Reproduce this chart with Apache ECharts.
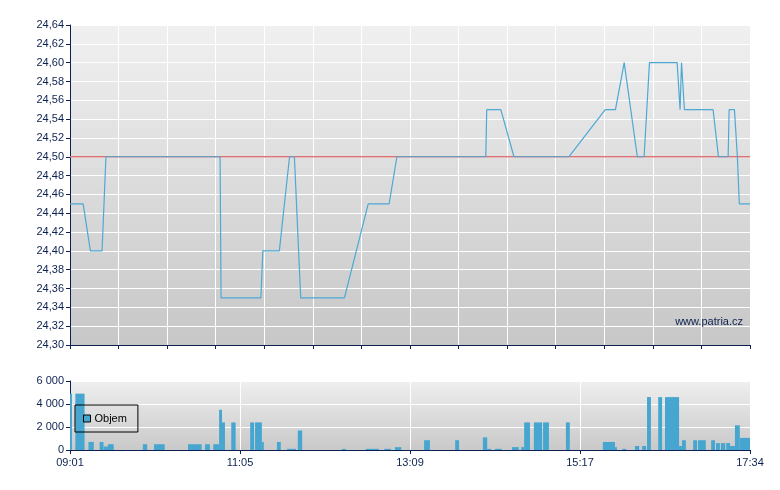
<!DOCTYPE html>
<html>
<head>
<meta charset="utf-8">
<script src="https://cdn.jsdelivr.net/npm/echarts@6/dist/echarts.min.js"></script>
<style>
html,body{margin:0;padding:0;background:#fff;}
#c{width:780px;height:490px;}
</style>
</head>
<body>
<div id="c"></div>
<script>
// Position along the (non-linear) session axis: 0 = 09:01, 140 = 17:34
var timeLabels = ['09:01', '11:05', '13:09', '15:17', '17:34'];
var prevClose = [24.50];

var priceX = [0, 2.7, 4.2, 6.6, 7.4, 30.9, 31.1, 39.3, 39.7, 43.1, 45.2, 46.2, 47.5, 56.5, 61.4, 65.7, 67.3,
  85.6, 85.8, 88.7, 91.4, 102.7, 110.2, 112.3, 114.1, 116.8, 118.2, 119.3, 125.0, 125.6, 125.9, 126.1, 126.5,
  132.4, 133.5, 135.5, 135.7, 136.8, 137.4, 137.8, 140];
var priceY = [24.45, 24.45, 24.40, 24.40, 24.50, 24.50, 24.35, 24.35, 24.40, 24.40, 24.50, 24.50, 24.35, 24.35, 24.45, 24.45, 24.50,
  24.50, 24.55, 24.55, 24.50, 24.50, 24.55, 24.55, 24.60, 24.50, 24.50, 24.60, 24.60, 24.55, 24.60, 24.60, 24.55,
  24.55, 24.50, 24.50, 24.55, 24.55, 24.50, 24.45, 24.45];

var volStart = [0, 1.1, 3.8, 6.1, 6.9, 7.8, 15.0, 17.3, 24.3, 27.8, 29.5, 30.7, 31.3, 33.2, 37.1, 38.1, 39.5, 42.6,
  44.7, 46.9, 56.0, 60.9, 64.7, 66.9, 72.9, 79.3, 85.0, 85.9, 87.5, 91.0, 92.9, 93.5, 95.5, 97.4, 102.1,
  109.7, 112.2, 113.7, 116.3, 117.8, 118.8, 121.1, 122.5, 125.4, 126.0, 128.3, 129.3, 132.0, 133.0, 134.0,
  135.1, 135.9, 136.9, 137.9];
var volEnd = [0.4, 3.0, 4.9, 6.9, 7.8, 9.0, 15.9, 19.5, 27.1, 28.8, 30.7, 31.3, 31.9, 34.1, 37.9, 39.5, 39.9, 43.4,
  46.5, 47.8, 56.8, 63.6, 66.1, 68.2, 74.1, 80.1, 85.9, 86.7, 88.9, 92.4, 93.5, 94.7, 97.2, 98.6, 102.9,
  112.2, 112.6, 114.5, 117.2, 118.6, 119.6, 121.9, 125.4, 126.0, 126.8, 129.1, 130.9, 132.8, 133.8, 134.9,
  135.9, 136.9, 137.9, 140];
var volValue = [4900, 4900, 700, 700, 300, 500, 500, 500, 500, 500, 500, 3500, 2400, 2400, 2400, 2400, 700, 700,
  100, 1700, 100, 100, 100, 250, 850, 850, 1100, 100, 100, 250, 250, 2400, 2400, 2400, 2400,
  700, 250, 100, 350, 350, 4600, 4600, 4600, 350, 850, 850, 850, 850, 600, 600,
  600, 350, 2150, 1050];

var navy = '#0d2150';
var lineBlue = '#4ea8d4';
var barBlue = '#47a6cf';
var font = 'Arial, "Liberation Sans", sans-serif';

var priceData = priceX.map(function (x, i) { return [x, priceY[i]]; });
var closeData = [[0, prevClose[0]], [140, prevClose[0]]];
var volData = volStart.map(function (s, i) { return [s, volEnd[i], volValue[i]]; });

function bg(top, bottom) {
  return new echarts.graphic.LinearGradient(0, 0, 0, 1, [
    { offset: 0, color: top }, { offset: 1, color: bottom }
  ]);
}

var chart = echarts.init(document.getElementById('c'), null, { renderer: 'canvas' });
chart.setOption({
  animation: false,
  backgroundColor: '#ffffff',
  textStyle: { fontFamily: font },
  grid: [
    { left: 70, top: 25, width: 680, height: 320, show: true, borderWidth: 0, backgroundColor: bg('#f0f0f0', '#c7c7c7') },
    { left: 70, top: 381, width: 680, height: 69, show: true, borderWidth: 0, backgroundColor: bg('#efefef', '#c9c9c9') }
  ],
  legend: {
    data: ['Objem'],
    left: 75, top: 405,
    orient: 'horizontal',
    padding: [8, 11, 8, 8],
    borderColor: '#000', borderWidth: 1, borderRadius: 0,
    backgroundColor: 'transparent',
    shadowBlur: 0, shadowColor: 'transparent',
    icon: 'rect',
    itemWidth: 7, itemHeight: 7, itemGap: 4,
    itemStyle: { borderColor: '#000', borderWidth: 1 },
    textStyle: { color: '#000', fontSize: 11, fontFamily: font, padding: [0, 0, 0, -1] }
  },
  xAxis: [
    {
      type: 'value', gridIndex: 0, min: 0, max: 140, interval: 10,
      axisLine: { show: true, lineStyle: { color: navy } },
      axisTick: { show: true, length: 4, lineStyle: { color: navy } },
      axisLabel: { show: false },
      splitLine: { show: true, lineStyle: { color: '#ffffff', width: 1 } }
    },
    {
      type: 'value', gridIndex: 1, min: 0, max: 140, interval: 35,
      axisLine: { show: true, lineStyle: { color: navy } },
      axisTick: { show: true, length: 4, lineStyle: { color: navy } },
      axisLabel: {
        show: true, color: navy, fontSize: 11, fontFamily: font, margin: 7,
        formatter: function (v) { return timeLabels[Math.round(v / 35)] || ''; }
      },
      splitLine: { show: true, lineStyle: { color: '#ffffff', width: 1 } }
    }
  ],
  yAxis: [
    {
      type: 'value', gridIndex: 0, min: 24.30, max: 24.64, interval: 0.02,
      axisLine: { show: true, lineStyle: { color: navy } },
      axisTick: { show: true, length: 4, lineStyle: { color: navy } },
      axisLabel: {
        color: navy, fontSize: 11, fontFamily: font, margin: 6,
        formatter: function (v) { return v.toFixed(2).replace('.', ','); }
      },
      splitLine: { show: true, lineStyle: { color: '#ffffff', width: 1 } }
    },
    {
      type: 'value', gridIndex: 1, min: 0, max: 6000, interval: 2000,
      axisLine: { show: true, lineStyle: { color: navy } },
      axisTick: { show: true, length: 4, lineStyle: { color: navy } },
      axisLabel: {
        color: navy, fontSize: 11, fontFamily: font, margin: 6,
        formatter: function (v) { return String(Math.round(v)).replace(/\B(?=(\d{3})+(?!\d))/g, ' '); }
      },
      splitLine: { show: true, lineStyle: { color: '#ffffff', width: 1 } }
    }
  ],
  series: [
    {
      name: 'Předchozí závěr', type: 'line', xAxisIndex: 0, yAxisIndex: 0,
      data: closeData, symbol: 'none', silent: true,
      lineStyle: { color: '#d97272', width: 1.5 }
    },
    {
      name: 'Cena', type: 'line', xAxisIndex: 0, yAxisIndex: 0,
      data: priceData, symbol: 'none',
      lineStyle: { color: lineBlue, width: 1.2 }
    },
    {
      name: 'Objem', type: 'custom', xAxisIndex: 1, yAxisIndex: 1,
      data: volData,
      encode: { x: [0, 1], y: 2 },
      itemStyle: { color: barBlue },
      renderItem: function (params, api) {
        var p0 = api.coord([api.value(0), api.value(2)]);
        var p1 = api.coord([api.value(1), 0]);
        return {
          type: 'rect',
          shape: { x: p0[0], y: p0[1], width: p1[0] - p0[0], height: p1[1] - p0[1] },
          style: { fill: barBlue }
        };
      }
    }
  ],
  graphic: [
    {
      type: 'text', right: 37, top: 316, z: 10,
      style: { text: 'www.patria.cz', fill: navy, font: '11px ' + font }
    }
  ]
});
</script>
</body>
</html>
